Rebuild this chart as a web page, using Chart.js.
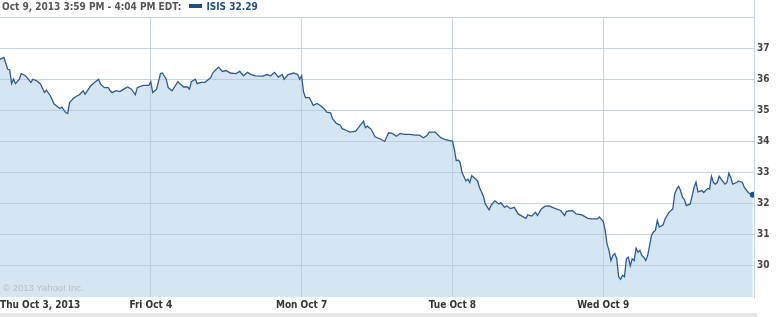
<!DOCTYPE html>
<html>
<head>
<meta charset="utf-8">
<script src="https://cdn.jsdelivr.net/npm/chart.js@4.4.0/dist/chart.umd.min.js"></script>
<style>
    html, body { margin: 0; padding: 0; background: #fff; }
    #wrap { position: relative; width: 782px; height: 317px; overflow: hidden; }
    #wrap canvas { position: absolute; left: 0; top: 0; }
    .hdr { position: absolute; left: 2px; top: 1px; line-height: 14px; white-space: nowrap;
           font: bold 10px "DejaVu Sans Condensed", "DejaVu Sans", sans-serif; color: #555; }
    .hdr .swatch { display: inline-block; width: 13px; height: 4px; background: #1d4f8a;
                   margin: 0 4px 0 8px; vertical-align: 2px; }
    .hdr .sym { color: #1d4f8a; }
    .copy { position: absolute; left: 3px; top: 282px; font: 9.5px "Liberation Sans", Arial, sans-serif;
            color: #b3c0ca; white-space: nowrap; }
    .edge { position: absolute; left: 754px; top: 0; width: 1px; height: 17px; background: #c6d5e1; }
    .band { position: absolute; left: 0; top: 313px; width: 757px; height: 4px; background: #e6e6e6; }
</style>
</head>
<body>
<div id="wrap">
    <canvas id="priceChart" width="782" height="317"></canvas>
    <div class="edge"></div>
    <div class="band"></div>
    <div class="hdr">Oct 9, 2013 3:59 PM - 4:04 PM EDT:<span class="swatch"></span><span class="sym">ISIS 32.29</span></div>
    <div class="copy">© 2013 Yahoo! Inc.</div>
</div>
<script>
// trading-day labels (each session = 390 minutes)
const dayLabels = ['Thu Oct 3, 2013', 'Fri Oct 4', 'Mon Oct 7', 'Tue Oct 8', 'Wed Oct 9'];
const priceTicks = [30, 31, 32, 33, 34, 35, 36, 37];

// minutes after the open, and price, per session
const oct3Min = [0, 10, 20, 25, 30, 35, 40, 50, 55, 65, 70, 80, 85, 95, 105, 115, 120, 130, 140, 155,
    160, 170, 175, 180, 190, 200, 205, 215, 220, 235, 245, 255, 260, 270, 280, 285, 290, 300, 310, 320,
    330, 340, 350, 355, 370, 385, 390];
const oct3Px = [36.64, 36.70, 36.32, 36.30, 35.86, 36.00, 35.86, 36.00, 36.18, 36.12, 36.05, 35.90, 36.00, 35.95, 35.84, 35.57, 35.65, 35.47, 35.20, 35.06,
    35.10, 34.93, 34.90, 35.25, 35.39, 35.47, 35.50, 35.63, 35.52, 35.79, 35.90, 36.00, 35.84, 35.73, 35.73, 35.63, 35.57, 35.63, 35.60, 35.68,
    35.75, 35.68, 35.50, 35.73, 35.80, 35.80, 35.92];

const oct4Min = [5, 15, 25, 30, 40, 45, 55, 70, 85, 95, 100, 105, 115, 120, 130, 140, 155, 160, 175, 185,
    195, 205, 220, 230, 240, 250, 260, 270, 290, 300, 310, 320, 330, 340, 345, 355, 370, 380, 385, 390];
const oct4Px = [35.57, 35.68, 36.18, 36.20, 36.00, 35.73, 35.63, 35.92, 35.75, 35.75, 35.68, 35.92, 36.00, 35.86, 35.90, 35.90, 36.05, 36.20, 36.39, 36.25,
    36.28, 36.20, 36.18, 36.25, 36.11, 36.22, 36.15, 36.11, 36.10, 36.15, 36.11, 36.22, 36.07, 36.15, 36.00, 36.15, 36.20, 36.15, 36.00, 36.11];

const oct7Min = [5, 10, 20, 30, 40, 50, 60, 65, 75, 80, 90, 100, 105, 115, 125, 140, 150, 160, 165, 170,
    180, 190, 205, 215, 225, 235, 245, 255, 265, 280, 295, 305, 315, 325, 330, 345, 360, 370, 385, 390];
const oct7Px = [35.59, 35.41, 35.41, 35.16, 35.22, 35.14, 35.03, 34.94, 34.92, 34.73, 34.58, 34.52, 34.41, 34.36, 34.30, 34.33, 34.49, 34.65, 34.44, 34.49,
    34.39, 34.15, 34.07, 34.00, 34.28, 34.26, 34.17, 34.26, 34.23, 34.23, 34.20, 34.20, 34.12, 34.20, 34.30, 34.30, 34.12, 34.07, 34.02, 34.02];

const oct8Min = [5, 10, 15, 20, 25, 35, 40, 45, 50, 60, 65, 70, 80, 85, 95, 100, 110, 120, 125, 135,
    140, 150, 160, 170, 180, 190, 195, 205, 215, 220, 230, 240, 250, 265, 280, 290, 295, 310, 320, 335,
    350, 360, 375, 380, 390];
const oct8Px = [33.75, 33.38, 33.40, 33.32, 33.00, 32.73, 32.79, 32.68, 32.90, 32.79, 32.73, 32.52, 32.25, 31.99, 31.80, 31.95, 32.09, 31.99, 32.03, 31.88,
    31.93, 31.84, 31.88, 31.67, 31.60, 31.53, 31.64, 31.60, 31.72, 31.62, 31.83, 31.92, 31.93, 31.85, 31.78, 31.62, 31.75, 31.78, 31.67, 31.64,
    31.53, 31.51, 31.51, 31.57, 31.43];

const oct9Min = [5, 10, 15, 20, 25, 30, 35, 40, 45, 50, 55, 60, 65, 70, 75, 80, 85, 90, 95, 100,
    105, 110, 115, 125, 130, 135, 140, 145, 155, 160, 170, 180, 185, 190, 195, 200, 205, 210, 215, 225,
    230, 235, 240, 245, 255, 260, 270, 275, 280, 285, 290, 295, 300, 305, 315, 320, 325, 330, 335, 345,
    350, 360, 365, 375, 380, 387];
const oct9Px = [31.15, 30.70, 30.50, 30.17, 30.33, 30.39, 30.23, 29.65, 29.57, 29.70, 29.65, 30.23, 30.28, 30.00, 30.23, 30.17, 30.57, 30.44, 30.50, 30.33,
    30.28, 30.17, 30.33, 30.98, 31.09, 31.14, 31.46, 31.25, 31.32, 31.51, 31.72, 31.83, 32.31, 32.47, 32.56, 32.42, 32.21, 32.13, 31.94, 31.99,
    32.25, 32.52, 32.70, 32.38, 32.42, 32.36, 32.49, 32.47, 32.88, 32.68, 32.63, 32.68, 32.88, 32.79, 32.63, 32.68, 32.98, 32.84, 32.63, 32.68,
    32.73, 32.68, 32.52, 32.36, 32.31, 32.29];

const SESSION = 390;
const sessions = [[oct3Min, oct3Px], [oct4Min, oct4Px], [oct7Min, oct7Px], [oct8Min, oct8Px], [oct9Min, oct9Px]];

const points = [];
sessions.forEach(([mins, px], d) => {
    mins.forEach((m, i) => points.push({ x: d * SESSION + m, y: px[i] }));
});
const lastIdx = points.length - 1;

const GRID = '#c6d5e1';
const FONT_FAMILY = '"DejaVu Sans Condensed", "DejaVu Sans", sans-serif';

// keep the plot flush with the left edge (no label padding)
function noSidePadding(s) {
    s.height = 20;
    s.paddingLeft = 0;
    s.paddingRight = 0;
    if (s._margins) { s._margins.left = 0; s._margins.right = 0; }
}

new Chart(document.getElementById('priceChart'), {
    type: 'line',
    data: {
        datasets: [{
            label: 'ISIS',
            data: points,
            borderColor: '#2a5c96',
            borderWidth: 1.3,
            backgroundColor: 'rgba(168, 200, 225, 0.48)',
            fill: 'start',
            tension: 0,
            pointRadius: ctx => ctx.dataIndex === lastIdx ? 3 : 0,
            pointBackgroundColor: '#1d4f8a',
            pointBorderWidth: 0
        }]
    },
    options: {
        responsive: false,
        animation: false,
        // last-point marker must not push the plot area in
        layout: { autoPadding: false, padding: { top: 17, left: 0, right: 0, bottom: 0 } },
        plugins: { legend: { display: false }, tooltip: { enabled: false } },
        scales: {
            x: {
                type: 'linear',
                min: 0,
                max: SESSION * dayLabels.length,
                afterFit: noSidePadding,
                border: { display: false },
                grid: {
                    drawTicks: false,
                    color: ctx => (ctx.tick && ctx.tick.value === 0) ? 'rgba(0,0,0,0)' : GRID
                },
                ticks: {
                    stepSize: SESSION,
                    autoSkip: false,
                    maxRotation: 0,
                    align: 'inner',
                    padding: 0,
                    color: '#333',
                    font: { family: FONT_FAMILY, size: 10, weight: 'bold', lineHeight: 1.7 },
                    callback: v => dayLabels[Math.round(v / SESSION)] || ''
                }
            },
            y: {
                position: 'right',
                min: 29,
                max: 38,
                afterFit: s => { s.width = 28; },
                border: { display: true, color: GRID },
                grid: {
                    drawTicks: false,
                    color: ctx => (ctx.tick && ctx.tick.value === 29) ? 'rgba(0,0,0,0)' : GRID
                },
                ticks: {
                    stepSize: 1,
                    padding: 3,
                    color: '#444',
                    font: { family: FONT_FAMILY, size: 10, weight: 'bold' },
                    callback: v => priceTicks.includes(v) ? String(v) : ''
                }
            }
        }
    }
});
</script>
</body>
</html>
